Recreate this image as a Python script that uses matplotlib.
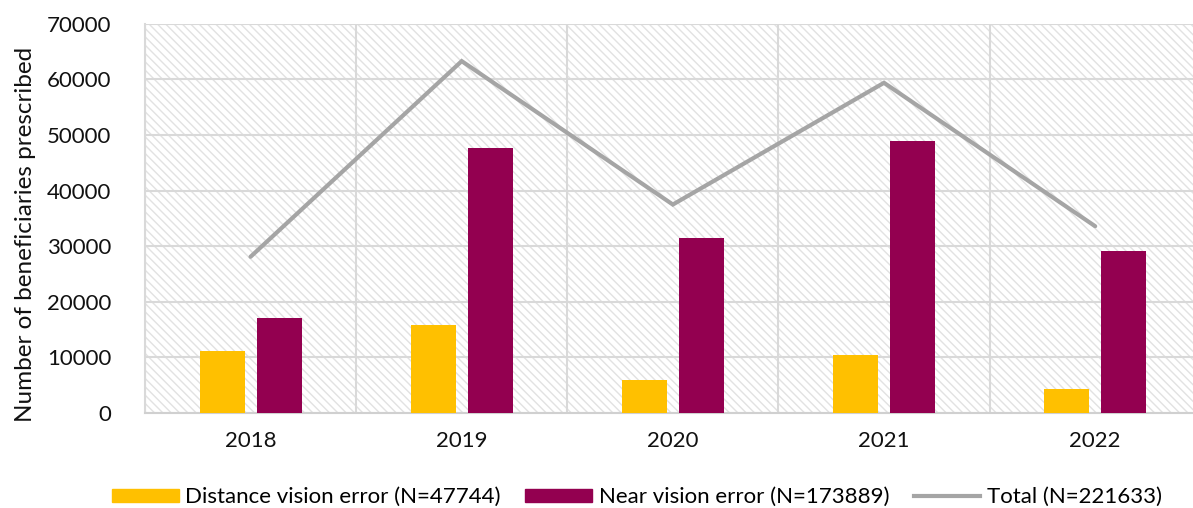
import numpy as np
import matplotlib.pyplot as plt
from matplotlib.patches import Patch
from matplotlib.lines import Line2D

plt.rcParams['font.family'] = ['Lato', 'DejaVu Sans']
plt.rcParams['hatch.color'] = '#e2e2e2'
plt.rcParams['hatch.linewidth'] = 1.0

years = ["2018", "2019", "2020", "2021", "2022"]
distance = [11100, 15800, 6000, 10400, 4400]
near = [17100, 47600, 31400, 48900, 29100]
total = [28100, 63300, 37500, 59400, 33600]

labels = ["Distance vision error (N=47744)",
          "Near vision error (N=173889)",
          "Total (N=221633)"]

fig = plt.figure(figsize=(11.93, 5.08), dpi=100)
ax = fig.add_axes([0.1215, 0.187, 0.885, 0.766])

# hatched background
ax.set_facecolor('white')
ax.patch.set_hatch('\\\\\\\\')
ax.patch.set_edgecolor('#e2e2e2')
ax.patch.set_linewidth(0)

x = np.arange(len(years))
w = 0.213
off = 0.135
ax.bar(x - off, distance, w, color='#FFC000', zorder=3)
ax.bar(x + off, near, w, color='#930050', zorder=3)
ax.plot(x, total, color='#A5A5A5', lw=3, solid_capstyle='round',
        solid_joinstyle='miter', zorder=4)

ax.set_xlim(-0.5, len(years) - 0.5)
ax.set_ylim(0, 70000)
ax.set_yticks(np.arange(0, 70001, 10000))
ax.set_xticks(x)
ax.set_xticklabels(years)
ax.set_xticks(np.arange(-0.5, len(years), 1), minor=True)

ax.grid(axis='y', color='#d9d9d9', lw=1.5, zorder=1)
ax.grid(axis='x', which='minor', color='#d9d9d9', lw=1.5, zorder=1)
ax.grid(axis='x', which='major', visible=False)

for s in ['top', 'right']:
    ax.spines[s].set_visible(False)
ax.spines['left'].set_color('#d9d9d9')
ax.spines['left'].set_linewidth(1.5)
ax.spines['bottom'].set_color('#d0d0d0')
ax.spines['bottom'].set_linewidth(1.5)

ax.tick_params(axis='both', which='both', length=0, labelsize=16, colors='#111111')
ax.tick_params(axis='y', pad=24)
ax.tick_params(axis='x', pad=13)
ax.set_ylabel("Number of beneficiaries prescribed", fontsize=17.5, color='#111111')
ax.yaxis.set_label_coords(-0.103, 0.46)

handles = [Patch(color='#FFC000'), Patch(color='#930050'),
           Line2D([0], [0], color='#A5A5A5', lw=3)]
fig.legend(handles, labels, loc='lower center', bbox_to_anchor=(0.534, -0.038),
           ncol=3, frameon=False, fontsize=16, handlelength=3.0, handleheight=0.55,
           handletextpad=0.3, columnspacing=1.1)

fig.savefig('out.png', dpi=100)
